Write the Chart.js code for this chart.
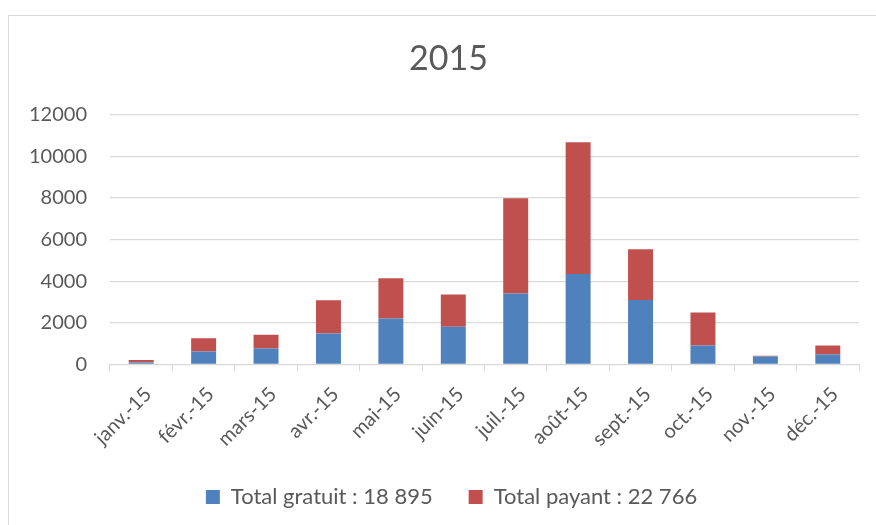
<!DOCTYPE html>
<html>
<head>
<meta charset="utf-8">
<script src="https://cdn.jsdelivr.net/npm/chart.js@4"></script>
<style>
  html, body { margin: 0; padding: 0; background: #fff; overflow: hidden; }
  #wrap { position: relative; width: 876px; height: 525px; }
  #frame { position: absolute; left: 8px; top: 15px; width: 900px; height: 540px;
           border-left: 1px solid #d9d9d9; border-top: 1px solid #d9d9d9; }
  canvas { position: absolute; left: 0; top: 0; }
</style>
</head>
<body>
<div id="wrap">
  <div id="frame"></div>
  <canvas id="barChart" width="876" height="525"></canvas>
</div>
<script>
// Données 2015
const months = ['janv.-15', 'févr.-15', 'mars-15', 'avr.-15', 'mai-15', 'juin-15',
  'juil.-15', 'août-15', 'sept.-15', 'oct.-15', 'nov.-15', 'déc.-15'];
const gratuit = [100, 620, 770, 1490, 2210, 1810, 3410, 4350, 3100, 910, 385, 480];
const payant = [110, 645, 655, 1600, 1935, 1550, 4575, 6335, 2435, 1585, 35, 430];
const seriesNames = ['Total gratuit : 18 895', 'Total payant : 22 766'];

const textColor = '#595959';
const gridColor = '#d9d9d9';
const font = 'Lato, "Open Sans", sans-serif';

// titre et légende centrés sur le cadre, pas sur le canvas
const shiftBoxes = {
  id: 'shiftBoxes',
  afterLayout(chart) {
    chart.legend.left += 19;
    chart.legend.right += 19;
    chart.titleBlock.left += 16;
    chart.titleBlock.right += 16;
  }
};

const barChart = document.getElementById('barChart');
new Chart(barChart, {
  type: 'bar',
  data: {
    labels: months,
    datasets: [{
      label: seriesNames[0],
      data: gratuit,
      backgroundColor: '#4f81bd',
      barPercentage: 0.4,
      categoryPercentage: 1
    }, {
      label: seriesNames[1],
      data: payant,
      backgroundColor: '#c0504d',
      barPercentage: 0.4,
      categoryPercentage: 1
    }]
  },
  options: {
    responsive: false,
    animation: false,
    layout: {
      padding: { left: 6, right: 17, top: 39, bottom: 7 }
    },
    plugins: {
      title: {
        display: true,
        text: '2015',
        color: textColor,
        font: { family: font, size: 34, weight: 'normal' },
        padding: { top: 0, bottom: 35 }
      },
      legend: {
        position: 'bottom',
        labels: {
          color: textColor,
          font: { family: font, size: 22 },
          boxWidth: 14,
          boxHeight: 14,
          padding: 36
        }
      },
      tooltip: { enabled: false }
    },
    scales: {
      x: {
        stacked: true,
        // les étiquettes empiètent un peu sur la marge de la légende
        afterFit: scale => { scale.height -= 12; },
        grid: {
          drawOnChartArea: false,
          drawTicks: true,
          tickLength: 7,
          color: gridColor
        },
        border: { color: gridColor },
        ticks: {
          color: textColor,
          font: { family: font, size: 20 },
          minRotation: 45,
          maxRotation: 45,
          padding: 11,
          labelOffset: 7
        }
      },
      y: {
        stacked: true,
        min: 0,
        max: 12000,
        grid: {
          color: gridColor,
          lineWidth: 1.3,
          drawTicks: false
        },
        border: { display: false },
        ticks: {
          stepSize: 2000,
          color: textColor,
          font: { family: font, size: 20 },
          padding: 23,
          callback: v => String(v)
        }
      }
    }
  },
  plugins: [shiftBoxes]
});
</script>
</body>
</html>
